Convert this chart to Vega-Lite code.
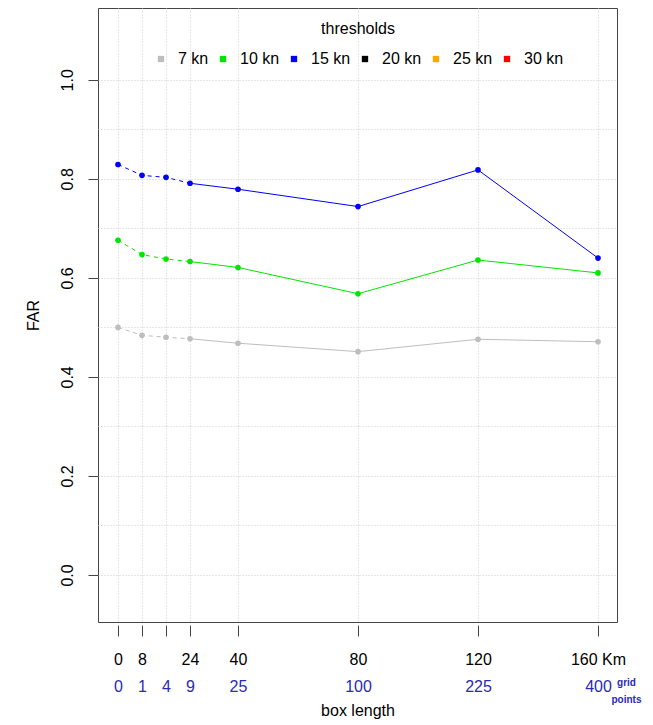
{
  "$schema": "https://vega.github.io/schema/vega-lite/v6.json",
  "autosize": "none",
  "padding": {"left": 98, "top": 8, "right": 36, "bottom": 103},
  "width": 519,
  "height": 614,
  "background": "white",
  "config": {
    "font": "Liberation Sans",
    "view": {"stroke": "#444444", "strokeWidth": 1},
    "axis": {
      "labelFont": "Liberation Sans",
      "titleFont": "Liberation Sans",
      "labelFontSize": 16,
      "titleFontSize": 16,
      "titleFontWeight": "normal",
      "labelColor": "#000000",
      "titleColor": "#000000",
      "tickColor": "#444444",
      "domainColor": "#444444",
      "gridColor": "#cfcfcf",
      "gridDash": [1, 2],
      "gridWidth": 1
    },
    "legend": {
      "labelFont": "Liberation Sans",
      "titleFont": "Liberation Sans"
    }
  },
  "data": {
    "values": [
      {"km": 0, "far": 0.500, "threshold": "7 kn"},
      {"km": 8, "far": 0.484, "threshold": "7 kn"},
      {"km": 16, "far": 0.480, "threshold": "7 kn"},
      {"km": 24, "far": 0.477, "threshold": "7 kn"},
      {"km": 40, "far": 0.468, "threshold": "7 kn"},
      {"km": 80, "far": 0.451, "threshold": "7 kn"},
      {"km": 120, "far": 0.476, "threshold": "7 kn"},
      {"km": 160, "far": 0.471, "threshold": "7 kn"},
      {"km": 0, "far": 0.676, "threshold": "10 kn"},
      {"km": 8, "far": 0.647, "threshold": "10 kn"},
      {"km": 16, "far": 0.638, "threshold": "10 kn"},
      {"km": 24, "far": 0.633, "threshold": "10 kn"},
      {"km": 40, "far": 0.621, "threshold": "10 kn"},
      {"km": 80, "far": 0.568, "threshold": "10 kn"},
      {"km": 120, "far": 0.636, "threshold": "10 kn"},
      {"km": 160, "far": 0.610, "threshold": "10 kn"},
      {"km": 0, "far": 0.829, "threshold": "15 kn"},
      {"km": 8, "far": 0.807, "threshold": "15 kn"},
      {"km": 16, "far": 0.803, "threshold": "15 kn"},
      {"km": 24, "far": 0.791, "threshold": "15 kn"},
      {"km": 40, "far": 0.779, "threshold": "15 kn"},
      {"km": 80, "far": 0.744, "threshold": "15 kn"},
      {"km": 120, "far": 0.818, "threshold": "15 kn"},
      {"km": 160, "far": 0.640, "threshold": "15 kn"}
    ]
  },
  "layer": [
    {
      "transform": [{"filter": "datum.km <= 24"}],
      "mark": {"type": "line", "strokeDash": [4, 4], "strokeWidth": 1},
      "encoding": {
        "x": {
          "field": "km", "type": "quantitative",
          "scale": {"domain": [-6.67, 166.33], "nice": false, "zero": false},
          "axis": {
            "orient": "bottom",
            "values": [0, 8, 16, 24, 40, 80, 120, 160],
            "labelExpr": "datum.value == 16 ? '' : datum.value == 160 ? '160 Km' : datum.label",
            "offset": 3,
            "tickSize": 11,
            "labelPadding": 15,
            "labelFlush": false,
            "labelOverlap": false,
            "domain": false,
            "grid": true,
            "title": null,
            "encode": {"labels": {"update": {"dx": {"signal": "datum.value === 160 ? 15 : 0"}}}}
          }
        },
        "y": {
          "field": "far", "type": "quantitative",
          "scale": {"domain": [-0.095, 1.145], "nice": false, "zero": false},
          "axis": {
            "orient": "left",
            "values": [0, 0.2, 0.4, 0.6, 0.8, 1.0],
            "format": ".1f",
            "labelAngle": -90,
            "labelAlign": "center",
            "labelBaseline": "alphabetic",
            "tickSize": 10,
            "labelPadding": 16,
            "domain": false,
            "grid": false,
            "title": "FAR",
            "titlePadding": 18
          }
        },
        "color": {
          "field": "threshold", "type": "nominal",
          "scale": {
            "domain": ["7 kn", "10 kn", "15 kn", "20 kn", "25 kn", "30 kn"],
            "range": ["#bebebe", "#00e600", "#0000ff", "#000000", "#ffa500", "#ff0000"]
          },
          "legend": {
            "orient": "none",
            "legendX": 55,
            "legendY": 13,
            "direction": "horizontal",
            "title": "thresholds",
            "titleAnchor": "middle",
            "titleFontSize": 16,
            "titleFontWeight": "normal",
            "titlePadding": 14,
            "labelFontSize": 16,
            "symbolType": "square",
            "symbolSize": 40,
            "symbolStrokeWidth": 0,
            "columnPadding": 6,
            "labelOffset": 9
          }
        }
      }
    },
    {
      "transform": [{"filter": "datum.km >= 24"}],
      "mark": {"type": "line", "strokeWidth": 1},
      "encoding": {
        "x": {
          "field": "km", "type": "quantitative",
          "axis": {
            "orient": "bottom",
            "values": [0, 8, 16, 24, 40, 80, 120, 160],
            "labelExpr": "datum.value == 0 ? '0' : datum.value == 8 ? '1' : datum.value == 16 ? '4' : datum.value == 24 ? '9' : datum.value == 40 ? '25' : datum.value == 80 ? '100' : datum.value == 120 ? '225' : '400'",
            "labelColor": "#2a2ab4",
            "offset": 3,
            "ticks": false,
            "tickSize": 0,
            "labelPadding": 53,
            "labelFlush": false,
            "labelOverlap": false,
            "domain": false,
            "grid": false,
            "title": "box length",
            "titlePadding": 8
          }
        },
        "y": {
          "field": "far", "type": "quantitative",
          "axis": {
            "orient": "left",
            "values": [0, 0.1, 0.2, 0.3, 0.4, 0.5, 0.6, 0.7, 0.8, 0.9, 1.0],
            "labels": false,
            "ticks": false,
            "domain": false,
            "grid": true,
            "title": null
          }
        },
        "color": {"field": "threshold", "type": "nominal"}
      }
    },
    {
      "mark": {"type": "point", "filled": true, "size": 32, "opacity": 1},
      "encoding": {
        "x": {
          "field": "km", "type": "quantitative",
          "axis": {
            "orient": "bottom",
            "values": [160],
            "labelExpr": "['grid', 'points']",
            "labelFontSize": 10,
            "labelFontWeight": "bold",
            "labelColor": "#2a2ab4",
            "labelLineHeight": 17,
            "labelOffset": 28,
            "offset": 3,
            "ticks": false,
            "tickSize": 0,
            "labelPadding": 52,
            "labelFlush": false,
            "domain": false,
            "grid": false,
            "title": null
          }
        },
        "y": {"field": "far", "type": "quantitative", "axis": null},
        "color": {"field": "threshold", "type": "nominal"}
      }
    }
  ],
  "resolve": {"axis": {"x": "independent", "y": "independent"}}
}
